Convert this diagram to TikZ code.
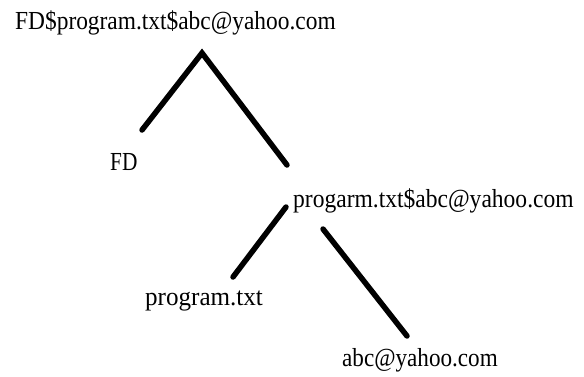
\documentclass[tikz,border=0pt]{standalone}
\usepackage{fontspec}
\usepackage{graphicx}
\setmainfont{Liberation Serif}
\newcommand\hsq[2]{\scalebox{#1}[1]{#2}}
\begin{document}
\begin{tikzpicture}[x=1pt,y=-1pt,
  lbl/.style={anchor=base west,inner sep=0pt,font=\fontsize{26}{29}\selectfont},
  branch/.style={line width=5.5pt,line cap=round,black}]
\useasboundingbox (0,0) rectangle (584,376);
\node[lbl] (root) at (15,29) {\hsq{0.9}{FD\$program.txt\$abc@yahoo.com}};
\node[lbl] (fd) at (110,170) {\hsq{0.82}{FD}};
\node[lbl] (sub) at (293,207) {\hsq{0.905}{progarm.txt\$abc@yahoo.com}};
\node[lbl] (prog) at (145,305) {\hsq{0.965}{program.txt}};
\node[lbl] (mail) at (342,366) {\hsq{0.89}{abc@yahoo.com}};
\coordinate (apex) at (202,53);
\coordinate (fdtop) at (142,130);
\coordinate (subtop) at (287,165);
\coordinate (s1) at (286,207);
\coordinate (progtop) at (233,277);
\coordinate (s2) at (323,229);
\coordinate (mailtop) at (407,336);
\draw[branch] (fdtop) -- (apex) -- (subtop);
\draw[branch] (s1) -- (progtop);
\draw[branch] (s2) -- (mailtop);
\end{tikzpicture}
\end{document}
